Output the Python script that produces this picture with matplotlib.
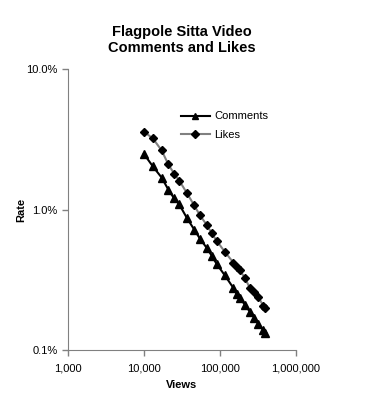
import matplotlib.pyplot as plt
from matplotlib.ticker import FuncFormatter, FixedLocator, NullLocator

plt.rcParams['font.family'] = ['Liberation Sans', 'DejaVu Sans']

# views for each sample
views = [10000, 13100, 17100, 20900, 25000, 29100, 36500, 45900, 54600, 66800,
         77800, 90500, 116000, 150000, 166000, 183000, 213000, 248000, 283000,
         319000, 371000, 391000]

# rates in percent
likes = [3.59, 3.21, 2.64, 2.10, 1.80, 1.61, 1.32, 1.07, 0.91, 0.78,
         0.68, 0.60, 0.50, 0.42, 0.39, 0.37, 0.325, 0.276, 0.261,
         0.240, 0.206, 0.200]
comments = [2.49, 2.03, 1.69, 1.39, 1.20, 1.09, 0.877, 0.72, 0.62, 0.535,
            0.47, 0.41, 0.34, 0.277, 0.25, 0.235, 0.21, 0.187, 0.17,
            0.153, 0.139, 0.132]

x_ticks = [1000, 10000, 100000, 1000000]
y_ticks = [0.1, 1.0, 10.0]

fig = plt.figure(figsize=(3.65, 4.09), dpi=100)
ax = fig.add_axes([0.186, 0.144, 0.625, 0.687])

ax.plot(views, comments, color='black', lw=1.5, marker='^', ms=5.5, label='Comments')
ax.plot(views, likes, color='#808080', lw=1.5, marker='D', ms=4.5,
        mfc='black', mec='black', label='Likes')

ax.set_xscale('log')
ax.set_yscale('log')
ax.set_xlim(1000, 1000000)
ax.set_ylim(0.1, 10.0)
ax.xaxis.set_major_locator(FixedLocator(x_ticks))
ax.yaxis.set_major_locator(FixedLocator(y_ticks))
ax.xaxis.set_minor_locator(NullLocator())
ax.yaxis.set_minor_locator(NullLocator())
ax.xaxis.set_major_formatter(FuncFormatter(lambda v, p: f"{int(round(v)):,}"))
ax.yaxis.set_major_formatter(FuncFormatter(lambda v, p: f"{v:.1f}%"))

for s in ['top', 'right']:
    ax.spines[s].set_visible(False)
for s in ['left', 'bottom']:
    ax.spines[s].set_color('#808080')
ax.tick_params(colors='#808080', labelcolor='black', labelsize=8, length=4, width=1)
ax.tick_params(axis='x', pad=6)

ax.set_xlabel('Views', fontsize=8, fontweight='bold', labelpad=4)
ax.set_ylabel('Rate', fontsize=8, fontweight='bold', labelpad=0)
ax.set_title('Flagpole Sitta Video\nComments and Likes', fontsize=10.5,
             fontweight='bold', pad=12.5, linespacing=1.15)

ax.legend(loc='upper left', bbox_to_anchor=(0.475, 0.865), frameon=False,
          fontsize=8, handlelength=2.6, labelspacing=0.75, borderaxespad=0,
          handletextpad=0.4, markerscale=0.8)

fig.savefig('out.png', dpi=100)
